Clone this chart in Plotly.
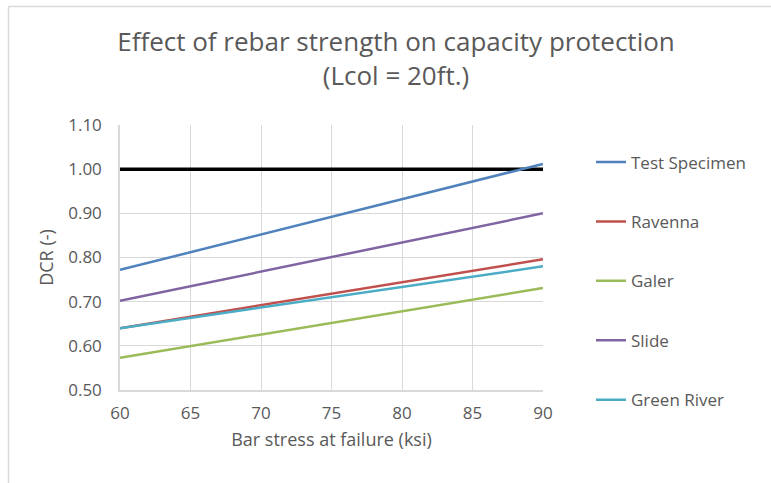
import plotly.graph_objects as go

x_ksi = [60, 90]
series_names = ["Test Specimen", "Ravenna", "Galer", "Slide", "Green River"]
series_values = {
    "Test Specimen": [0.772, 1.012],
    "Ravenna": [0.640, 0.796],
    "Galer": [0.573, 0.731],
    "Slide": [0.702, 0.900],
    "Green River": [0.640, 0.780],
}
series_colors = {
    "Test Specimen": "#4f81bd",
    "Ravenna": "#c0504d",
    "Galer": "#9bbb59",
    "Slide": "#8064a2",
    "Green River": "#4bacc6",
}
limit_values = [1.00, 1.00]

FONT = "Open Sans"
GRAY = "#595959"

fig = go.Figure()
fig.add_trace(go.Scatter(x=x_ksi, y=limit_values, mode="lines",
                         line=dict(color="black", width=3.5), showlegend=False,
                         hoverinfo="skip"))
for i, name in enumerate(series_names):
    fig.add_trace(go.Scatter(x=x_ksi, y=series_values[name], mode="lines", name=name,
                             legendgroup=f"g{i}",
                             line=dict(color=series_colors[name], width=2.5)))

W, H = 771, 483
L, R, T, B = 120, 228, 125, 93
pw, ph = W - L - R, H - T - B

def px_to_paper_x(px):
    return (px - L) / pw

def px_to_paper_y(py):
    return (H - B - py) / ph

fig.update_layout(
    width=W, height=H,
    margin=dict(l=L, r=R, t=T, b=B),
    paper_bgcolor="white", plot_bgcolor="white",
    font=dict(family=FONT, color=GRAY, size=17),
    title=dict(text="Effect of rebar strength on capacity protection<br>(Lcol = 20ft.)",
               x=396 / W, xanchor="center", y=1 - 51 / H, yanchor="middle",
               font=dict(family=FONT, size=26, color=GRAY)),
    xaxis=dict(range=[60, 90], tickvals=[60, 65, 70, 75, 80, 85, 90], ticks="",
               showgrid=True, gridcolor="#d9d9d9", gridwidth=1.3,
               showline=True, linecolor="#d9d9d9", linewidth=1.5,
               zeroline=False, ticklabelstandoff=7,
               title=dict(text="Bar stress at failure (ksi)", standoff=10,
                          font=dict(size=18, color=GRAY)),
               tickfont=dict(size=17, color=GRAY)),
    yaxis=dict(range=[0.5, 1.1], tickvals=[0.5, 0.6, 0.7, 0.8, 0.9, 1.0, 1.1],
               tickformat=".2f", ticks="",
               showgrid=True, gridcolor="#d9d9d9", gridwidth=1.3,
               showline=True, linecolor="#d9d9d9", linewidth=1.5,
               zeroline=False, ticklabelstandoff=13,
               title=dict(text="DCR (-)", standoff=10, font=dict(size=18, color=GRAY)),
               tickfont=dict(size=17, color=GRAY)),
    legend=dict(x=px_to_paper_x(591), xanchor="left", y=px_to_paper_y(144.5), yanchor="top",
                tracegroupgap=34.3, font=dict(size=17, color=GRAY),
                bgcolor="rgba(0,0,0,0)", maxheight=420),
    showlegend=True,
    shapes=[
        dict(type="line", xref="paper", yref="paper",
             x0=px_to_paper_x(8.5), x1=px_to_paper_x(8.5),
             y0=px_to_paper_y(6.5), y1=px_to_paper_y(H + 5),
             line=dict(color="#d9d9d9", width=1.5)),
        dict(type="line", xref="paper", yref="paper",
             x0=px_to_paper_x(8.5), x1=px_to_paper_x(W + 5),
             y0=px_to_paper_y(6.5), y1=px_to_paper_y(6.5),
             line=dict(color="#d9d9d9", width=1.5)),
    ],
)

fig.write_html("out.html", config={"displayModeBar": False},
               post_script="document.body.style.margin='0';")
